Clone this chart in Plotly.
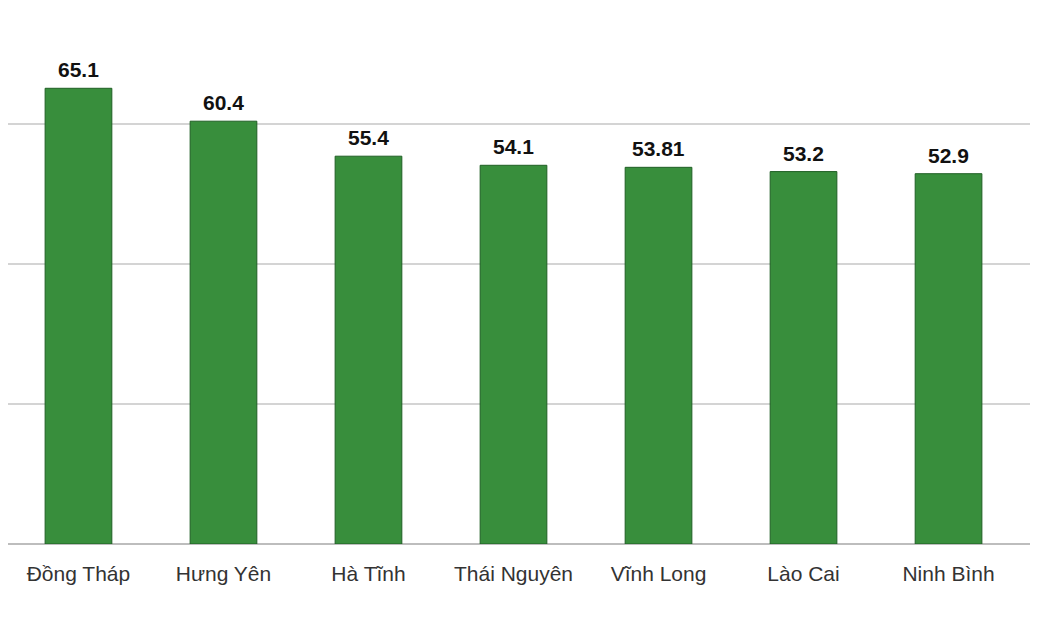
import plotly.graph_objects as go

provinces = ["Đồng Tháp", "Hưng Yên", "Hà Tĩnh", "Thái Nguyên", "Vĩnh Long", "Lào Cai", "Ninh Bình"]
values = [65.1, 60.4, 55.4, 54.1, 53.81, 53.2, 52.9]
value_labels = ["65.1", "60.4", "55.4", "54.1", "53.81", "53.2", "52.9"]

fig = go.Figure()

fig.add_trace(go.Bar(
    x=provinces,
    y=values,
    marker=dict(color="#388e3c", line=dict(color="#1f5f24", width=1)),
    width=0.46,
    hoverinfo="x+y",
))

# value labels above each bar
for name, val, lab in zip(provinces, values, value_labels):
    fig.add_annotation(
        x=name, y=val, text=lab,
        showarrow=False, yanchor="bottom", yshift=5,
        font=dict(family="Liberation Sans, Arial", size=21, color="#111111", weight="bold"),
    )

fig.update_layout(
    width=1030,
    height=615,
    margin=dict(l=0, r=0, t=0, b=79),
    plot_bgcolor="white",
    paper_bgcolor="white",
    showlegend=False,
    xaxis=dict(
        range=[-0.486, 6.617],
        showgrid=False,
        showline=False,
        ticks="outside",
        ticklen=11,
        tickcolor="rgba(0,0,0,0)",
        tickfont=dict(family="Liberation Sans, Arial", size=21, color="#333333"),
    ),
    yaxis=dict(
        range=[0, 76.57],
        dtick=20,
        showgrid=True,
        gridcolor="#d4d4d4",
        gridwidth=1.5,
        showticklabels=False,
        zeroline=True,
        zerolinecolor="#bdbdbd",
        zerolinewidth=2,
    ),
)

fig.write_html("out.html")
